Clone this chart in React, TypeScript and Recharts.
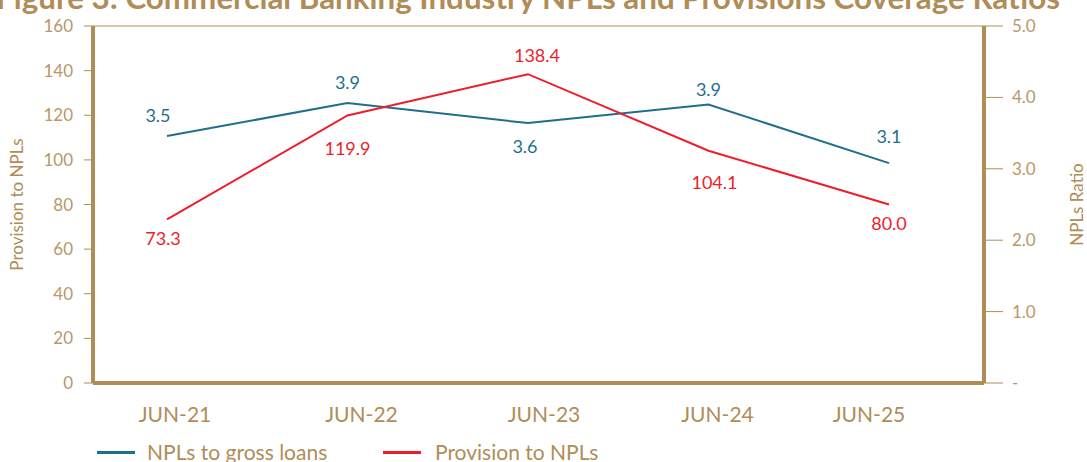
import {
  CartesianGrid,
  LabelList,
  Legend,
  Line,
  LineChart,
  XAxis,
  YAxis,
} from "recharts";

const periods = ["JUN-21", "JUN-22", "JUN-23", "JUN-24", "JUN-25"];
const nplRatio = [3.46, 3.92, 3.64, 3.9, 3.08];
const provisionCoverage = [73.3, 119.9, 138.4, 104.1, 80.0];
const leftTicks = [0, 20, 40, 60, 80, 100, 120, 140, 160];
const rightTicks = [0, 1, 2, 3, 4, 5];

const data = periods.map((p, i) => ({
  period: p,
  npl: nplRatio[i],
  provision: provisionCoverage[i],
}));

const GOLD = "#B08D57";
const TICK = "#B9976A";
const BLUE = "#1F6F8B";
const RED = "#EE1D2B";
const FONT = "Lato, 'Noto Sans', sans-serif";

// label placement relative to the point (px)
const nplLabelDy = [-21, -21, 23, -16, -27];
const nplLabelDx = [-9, 0, -3, 0, 0];
const provLabelDy = [19, 33, -19, 31, 18];
const provLabelDx = [-4, 0, 9, 6, 0];
// the category captions sit a little off the points in the original
const tickDx = [8, 14, 16, 9, -20];

const makeLabel =
  (color: string, dys: number[], dxs: number[]) => (props: any) => {
    const { x, y, value, index } = props;
    return (
      <text
        x={x + dxs[index]}
        y={y + dys[index]}
        textAnchor="middle"
        dominantBaseline="central"
        fill={color}
        fontSize={18}
        fontFamily={FONT}
      >
        {Number(value).toFixed(1)}
      </text>
    );
  };

const PeriodTick = (props: any) => {
  const { x, y, payload, index } = props;
  return (
    <text
      x={x + tickDx[index]}
      y={y}
      dy={21}
      textAnchor="middle"
      fill={GOLD}
      fontSize={21}
      fontFamily={FONT}
    >
      {payload.value}
    </text>
  );
};

const LegendContent = () => (
  <div
    style={{
      position: "relative",
      height: 29,
      fontFamily: FONT,
      fontSize: 21,
      color: GOLD,
      whiteSpace: "nowrap",
    }}
  >
    <span style={{ position: "absolute", left: 97, top: 18, width: 38, height: 3, background: BLUE }} />
    <span style={{ position: "absolute", left: 147, top: 6 }}>NPLs to gross loans</span>
    <span style={{ position: "absolute", left: 383, top: 18, width: 38, height: 3, background: RED }} />
    <span style={{ position: "absolute", left: 435, top: 6 }}>Provision to NPLs</span>
  </div>
);

export default function App() {
  return (
    <div
      style={{
        position: "absolute",
        left: 0,
        top: 0,
        width: 1087,
        height: 462,
        overflow: "hidden",
        background: "#fff",
      }}
    >
      <svg
        width={1087}
        height={30}
        style={{ position: "absolute", left: 0, top: 0 }}
      >
        <text
          x={-4}
          y={9}
          fill={GOLD}
          fontFamily={FONT}
          fontWeight={700}
          fontSize={30}
          textLength={1064}
          lengthAdjust="spacingAndGlyphs"
        >
          Figure 3: Commercial Banking Industry NPLs and Provisions Coverage Ratios
        </text>
      </svg>
      <LineChart
        width={1087}
        height={462}
        data={data}
        margin={{ top: 26, right: 0, bottom: 0, left: 0 }}
      >
        <CartesianGrid vertical={false} stroke={GOLD} strokeWidth={1} />
        <XAxis
          dataKey="period"
          height={50}
          padding={{ left: 74, right: 95 }}
          axisLine={{ stroke: GOLD, strokeWidth: 4 }}
          tickLine={false}
          tickMargin={12}
          tick={<PeriodTick />}
        />
        <YAxis
          yAxisId="left"
          width={93}
          domain={[0, 160]}
          ticks={leftTicks}
          interval={0}
          axisLine={{ stroke: GOLD, strokeWidth: 4 }}
          tickLine={{ stroke: GOLD }}
          tickSize={9}
          tickMargin={11}
          tick={{ fill: TICK, fontSize: 17, fontFamily: FONT }}
          label={{
            value: "Provision to NPLs",
            angle: -90,
            position: "insideLeft",
            offset: 17,
            style: { fill: GOLD, fontSize: 17, fontFamily: FONT, textAnchor: "middle" },
          }}
        />
        <YAxis
          yAxisId="right"
          orientation="right"
          width={103}
          domain={[0, 5]}
          ticks={rightTicks}
          interval={0}
          axisLine={{ stroke: GOLD, strokeWidth: 4 }}
          tickLine={{ stroke: GOLD }}
          tickSize={19}
          tickMargin={9}
          tickFormatter={(v: number) => (v === 0 ? "-" : v.toFixed(1))}
          tick={{ fill: TICK, fontSize: 17, fontFamily: FONT }}
          label={{
            value: "NPLs Ratio",
            angle: -90,
            position: "insideRight",
            offset: 10,
            style: { fill: GOLD, fontSize: 17, fontFamily: FONT, textAnchor: "middle" },
          }}
        />
        <Legend verticalAlign="bottom" height={29} content={<LegendContent />} />
        <Line
          yAxisId="right"
          dataKey="npl"
          stroke={BLUE}
          strokeWidth={2}
          dot={false}
          isAnimationActive={false}
        >
          <LabelList dataKey="npl" content={makeLabel(BLUE, nplLabelDy, nplLabelDx)} />
        </Line>
        <Line
          yAxisId="left"
          dataKey="provision"
          stroke={RED}
          strokeWidth={2}
          dot={false}
          isAnimationActive={false}
        >
          <LabelList
            dataKey="provision"
            content={makeLabel(RED, provLabelDy, provLabelDx)}
          />
        </Line>
      </LineChart>
    </div>
  );
}
